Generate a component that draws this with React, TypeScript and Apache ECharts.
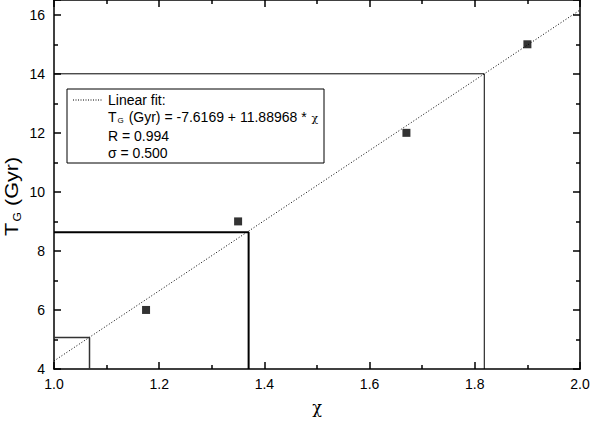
import React, { useEffect, useRef } from "react";
import * as echarts from "echarts";

const chiValues = [1.175, 1.35, 1.67, 1.9];
const ageValues = [6, 9, 12, 15];
const fitIntercept = -7.6169;
const fitSlope = 11.88968;
const fitRange = [1.0, 2.0];
const bigBox = [[1.0, 14], [1.818, 14], [1.818, 4]];
const midBox = [[1.0, 8.63], [1.37, 8.63], [1.37, 4]];
const smallBox = [[1.0, 5.07], [1.0675, 5.07], [1.0675, 4]];
const xTicks = ["1.0", "1.2", "1.4", "1.6", "1.8", "2.0"];

const FONT = "Liberation Sans, Arial, sans-serif";

export default function App() {
  const ref = useRef<HTMLDivElement>(null);
  useEffect(() => {
    const chart = echarts.init(ref.current!, null, { renderer: "svg" });
    const fitData = fitRange.map((x) => [x, fitIntercept + fitSlope * x]);
    const axisCommon = {
      axisLine: { lineStyle: { color: "#000", width: 1.5 } },
      axisTick: { inside: true, length: 7, lineStyle: { color: "#000", width: 1.5 } },
      minorTick: { show: true, splitNumber: 2, length: 4, lineStyle: { color: "#000", width: 1.5 } },
      splitLine: { show: false },
    };
    chart.setOption({
      animation: false,
      grid: { left: 54, right: 11, top: 0, bottom: 54, outerBoundsMode: "none", containLabel: false },
      xAxis: [
        {
          type: "value", min: 1, max: 2, interval: 0.2, position: "bottom",
          ...axisCommon,
          axisLabel: { color: "#000", fontSize: 14, fontFamily: FONT, margin: 8,
            formatter: (v: number) => xTicks[Math.round((v - 1) / 0.2)] ?? "" },
          name: "χ", nameLocation: "middle", nameGap: 30,
          nameTextStyle: { color: "#000", fontSize: 16, fontFamily: "DejaVu Serif, serif" },
        },
        {
          type: "value", min: 1, max: 2, interval: 0.2, position: "top",
          ...axisCommon, axisLabel: { show: false },
        },
      ],
      yAxis: [
        {
          type: "value", min: 4, max: 16.5, interval: 2, position: "left",
          ...axisCommon,
          axisLabel: { color: "#000", fontSize: 14, fontFamily: FONT, margin: 9,
            formatter: (v: number) => (v % 2 === 0 ? String(v) : "") },
        },
        {
          type: "value", min: 4, max: 16.5, interval: 2, position: "right",
          ...axisCommon, axisLabel: { show: false },
        },
      ],
      series: [
        { type: "line", data: fitData, symbol: "none", lineStyle: { color: "#000", width: 1, type: [1, 2] }, z: 3 },
        { type: "line", data: bigBox, symbol: "none", lineStyle: { color: "#000", width: 1 } },
        { type: "line", data: midBox, symbol: "none", lineStyle: { color: "#000", width: 2 } },
        { type: "line", data: smallBox, symbol: "none", lineStyle: { color: "#333", width: 1.5 } },
        { type: "scatter", data: chiValues.map((x, i) => [x, ageValues[i]]), symbol: "rect", symbolSize: 8,
          itemStyle: { color: "#000" }, z: 4 },
      ],
      graphic: [
        {
          type: "group", x: 21, y: 236, rotation: Math.PI / 2, scaleX: 1.2, z: 11,
          children: [
            { type: "text", x: 0, y: 0, style: { text: "T", fill: "#000", font: `18px ${FONT}`, verticalAlign: "bottom" } },
            { type: "text", x: 12, y: 1, style: { text: "G", fill: "#000", font: `10px ${FONT}`, verticalAlign: "bottom" } },
            { type: "text", x: 20, y: 0, style: { text: " (Gyr)", fill: "#000", font: `18px ${FONT}`, verticalAlign: "bottom" } },
          ],
        },
        { type: "rect", shape: { x: 67, y: 89, width: 257, height: 74 },
          style: { fill: "#fff", stroke: "#000", lineWidth: 1 }, z: 10 },
        { type: "line", shape: { x1: 73, y1: 100, x2: 103, y2: 100 },
          style: { stroke: "#000", lineWidth: 1, lineDash: [1, 1.5] }, z: 11 },
        { type: "text", x: 108, y: 93, z: 11,
          style: { text: "Linear fit:", fill: "#000", font: `14px ${FONT}` } },
        { type: "text", x: 108, y: 109, z: 11,
          style: { text: "{a|T}{s|G}{a| (Gyr) = -7.6169 + 11.88968 * }{c|χ}", fill: "#000",
            rich: { a: { fontSize: 14, fontFamily: FONT, fill: "#000" },
              s: { fontSize: 8, fontFamily: FONT, fill: "#000", padding: [7, 1, 0, 1] },
              c: { fontSize: 11, fontFamily: "DejaVu Serif, serif", fill: "#000", padding: [4, 0, 0, 1] } } } },
        { type: "text", x: 108, y: 129, z: 11,
          style: { text: "R = 0.994", fill: "#000", font: `14px ${FONT}` } },
        { type: "text", x: 108, y: 146, z: 11,
          style: { text: "σ = 0.500", fill: "#000", font: `14px ${FONT}` } },
      ],
    });
    return () => chart.dispose();
  }, []);
  return <div ref={ref} style={{ width: 591, height: 423, position: "absolute", left: 0, top: 0, background: "#fff" }} />;
}
